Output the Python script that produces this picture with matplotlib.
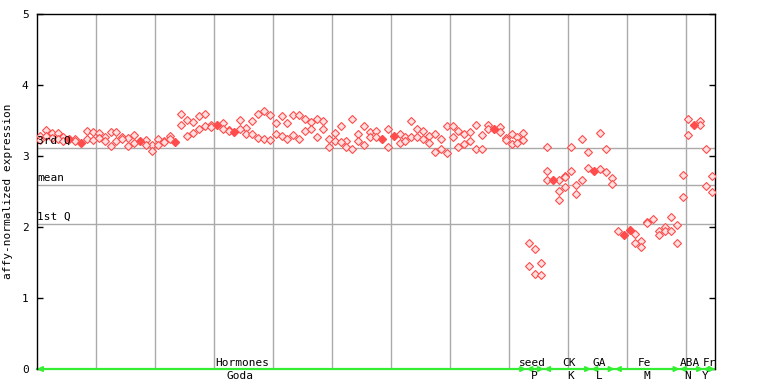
import numpy as np
import matplotlib
matplotlib.use("Agg")
import matplotlib.pyplot as plt

# expression values per sample (up to three replicates)
rep1 = [3.28, 3.37, 3.32, 3.32, 3.27, 3.24, 3.24, 3.18, 3.35, 3.34,
        3.32, 3.27, 3.34, 3.34, 3.27, 3.25, 3.30, 3.21, 3.23, 3.15,
        3.24, 3.21, 3.28, 3.20, 3.59, 3.51, 3.48, 3.56, 3.59, 3.44,
        3.44, 3.46, 3.37, 3.34, 3.51, 3.39, 3.49, 3.59, 3.63, 3.58,
        3.46, 3.56, 3.46, 3.58, 3.58, 3.52, 3.48, 3.52, 3.49, 3.24,
        3.32, 3.42, 3.21, 3.52, 3.31, 3.42, 3.34, 3.35, 3.24, 3.38,
        3.28, 3.31, 3.27, 3.49, 3.38, 3.35, 3.28, 3.31, 3.24, 3.42,
        3.42, 3.35, 3.31, 3.34, 3.44, 3.30, 3.44, 3.38, 3.41, 3.25,
        3.31, 3.27, 3.32, 1.77, 1.69, 1.49, 3.13, 2.66, 2.66, 2.72,
        3.13, 2.59, 3.24, 3.06, 2.79, 3.32, 3.10, 2.69, 1.94, 1.89,
        1.96, 1.90, 1.80, 2.07, 2.11, 1.94, 2.00, 2.14, 2.03, 2.73,
        3.52, 3.44, 3.49, 3.10, 2.72]
rep2 = [3.22, 3.28, 3.25, 3.24, 3.21, 3.24, 3.21, 3.18, 3.24, 3.23,
        3.25, 3.21, 3.14, 3.21, 3.24, 3.14, 3.18, 3.21, 3.15, 3.07,
        3.15, 3.19, 3.24, 3.20, 3.44, 3.28, 3.32, 3.38, 3.42, 3.41,
        3.44, 3.38, 3.35, 3.34, 3.38, 3.31, 3.31, 3.25, 3.24, 3.23,
        3.31, 3.28, 3.24, 3.30, 3.24, 3.35, 3.38, 3.27, 3.38, 3.13,
        3.21, 3.20, 3.13, 3.10, 3.21, 3.15, 3.27, 3.27, 3.24, 3.13,
        3.28, 3.18, 3.21, 3.27, 3.27, 3.24, 3.18, 3.06, 3.10, 3.04,
        3.27, 3.13, 3.17, 3.21, 3.10, 3.10, 3.38, 3.38, 3.34, 3.23,
        3.17, 3.18, 3.23, 1.45, 1.34, 1.32, 2.79, 2.66, 2.51, 2.56,
        2.79, 2.46, 2.66, 2.83, 2.79, 2.82, 2.77, 2.61, np.nan, 1.89,
        1.96, 1.77, 1.72, 2.05, np.nan, 1.89, 1.94, 1.94, 1.77, 2.42,
        3.30, 3.44, 3.44, 2.58, 2.49]
extra_idx = [86, 88, 89]
extra_val = [2.66, 2.38, 2.70]

q3, mean, q1 = 3.11, 2.59, 2.04
q_labels = ["3rd Q", "mean", "1st Q"]

group_edges = [0, 83, 86, 94, 98, 109, 113, 115]
group_names = ["Hormones", "seed", "CK", "GA", "Fe", "ABA", "Fr"]
group_name_x = [34.8, 84.0, 90.2, 95.3, 103.0, 110.7, 114.0]
sub_names = ["Goda", "P", "K", "L", "M", "N", "Y"]
sub_name_x = [34.4, 84.4, 90.5, 95.4, 103.4, 110.3, 113.4]

mono = "DejaVu Sans Mono"
red = "#ff4c4c"

fig = plt.figure(figsize=(7.68, 3.84), dpi=100)
ax = fig.add_axes([0.048, 0.039, 0.883, 0.925])

x = np.arange(len(rep1)) + 0.5
r1 = np.array(rep1)
r2 = np.array(rep2)
same = r1 == r2

hollow = dict(ls="none", marker="D", ms=3.6, mfc="#ffe0e0", mec=red,
              mew=0.8, zorder=3)
for vals in (r1, r2):
    m = ~same
    ax.plot(x[m], vals[m], **hollow)
ax.plot(np.array(extra_idx) + 0.5, extra_val, **hollow)
ax.plot(x[same], r1[same], ls="none", marker="D", ms=4.0, mfc=red,
        mec=red, zorder=3)

# grid
for gx in range(10, 115, 10):
    ax.axvline(gx, color="#aaaaaa", lw=1, zorder=1)
for qv, ql in zip([q3, mean, q1], q_labels):
    ax.axhline(qv, color="#aaaaaa", lw=1, zorder=1)
    ax.text(0.1, qv + 0.03, ql, fontsize=8, family=mono, va="bottom",
            ha="left", zorder=4)

# group arrows along the baseline
ax.plot([0, 115], [0, 0], color="#33ee33", lw=1.6, zorder=2, clip_on=False)
for a, b in zip(group_edges[:-1], group_edges[1:]):
    ax.annotate("", xy=(b, 0), xytext=(a, 0),
                arrowprops=dict(arrowstyle="<|-|>", color="#33ee33", lw=1.2,
                                mutation_scale=8, shrinkA=0, shrinkB=0),
                annotation_clip=False, zorder=2)
for gx, gn in zip(group_name_x, group_names):
    ax.text(gx, 0.02, gn, fontsize=8, family=mono, ha="center", va="bottom")
for sx, sn in zip(sub_name_x, sub_names):
    ax.text(sx, -0.03, sn, fontsize=8, family=mono, ha="center", va="top",
            clip_on=False)

ax.set_xlim(0, 115)
ax.set_ylim(0, 5)
ax.set_xticks([])
ax.set_yticks([0, 1, 2, 3, 4, 5])
ax.tick_params(axis="y", direction="in", length=4, width=1, right=True,
               labelsize=8, pad=6)
for lab in ax.get_yticklabels():
    lab.set_family(mono)
ax.spines["bottom"].set_visible(False)
for s in ("left", "right", "top"):
    ax.spines[s].set_linewidth(1)
ax.set_ylabel("affy-normalized expression", fontsize=8, family=mono, labelpad=6)

fig.savefig("out.png", dpi=100)
